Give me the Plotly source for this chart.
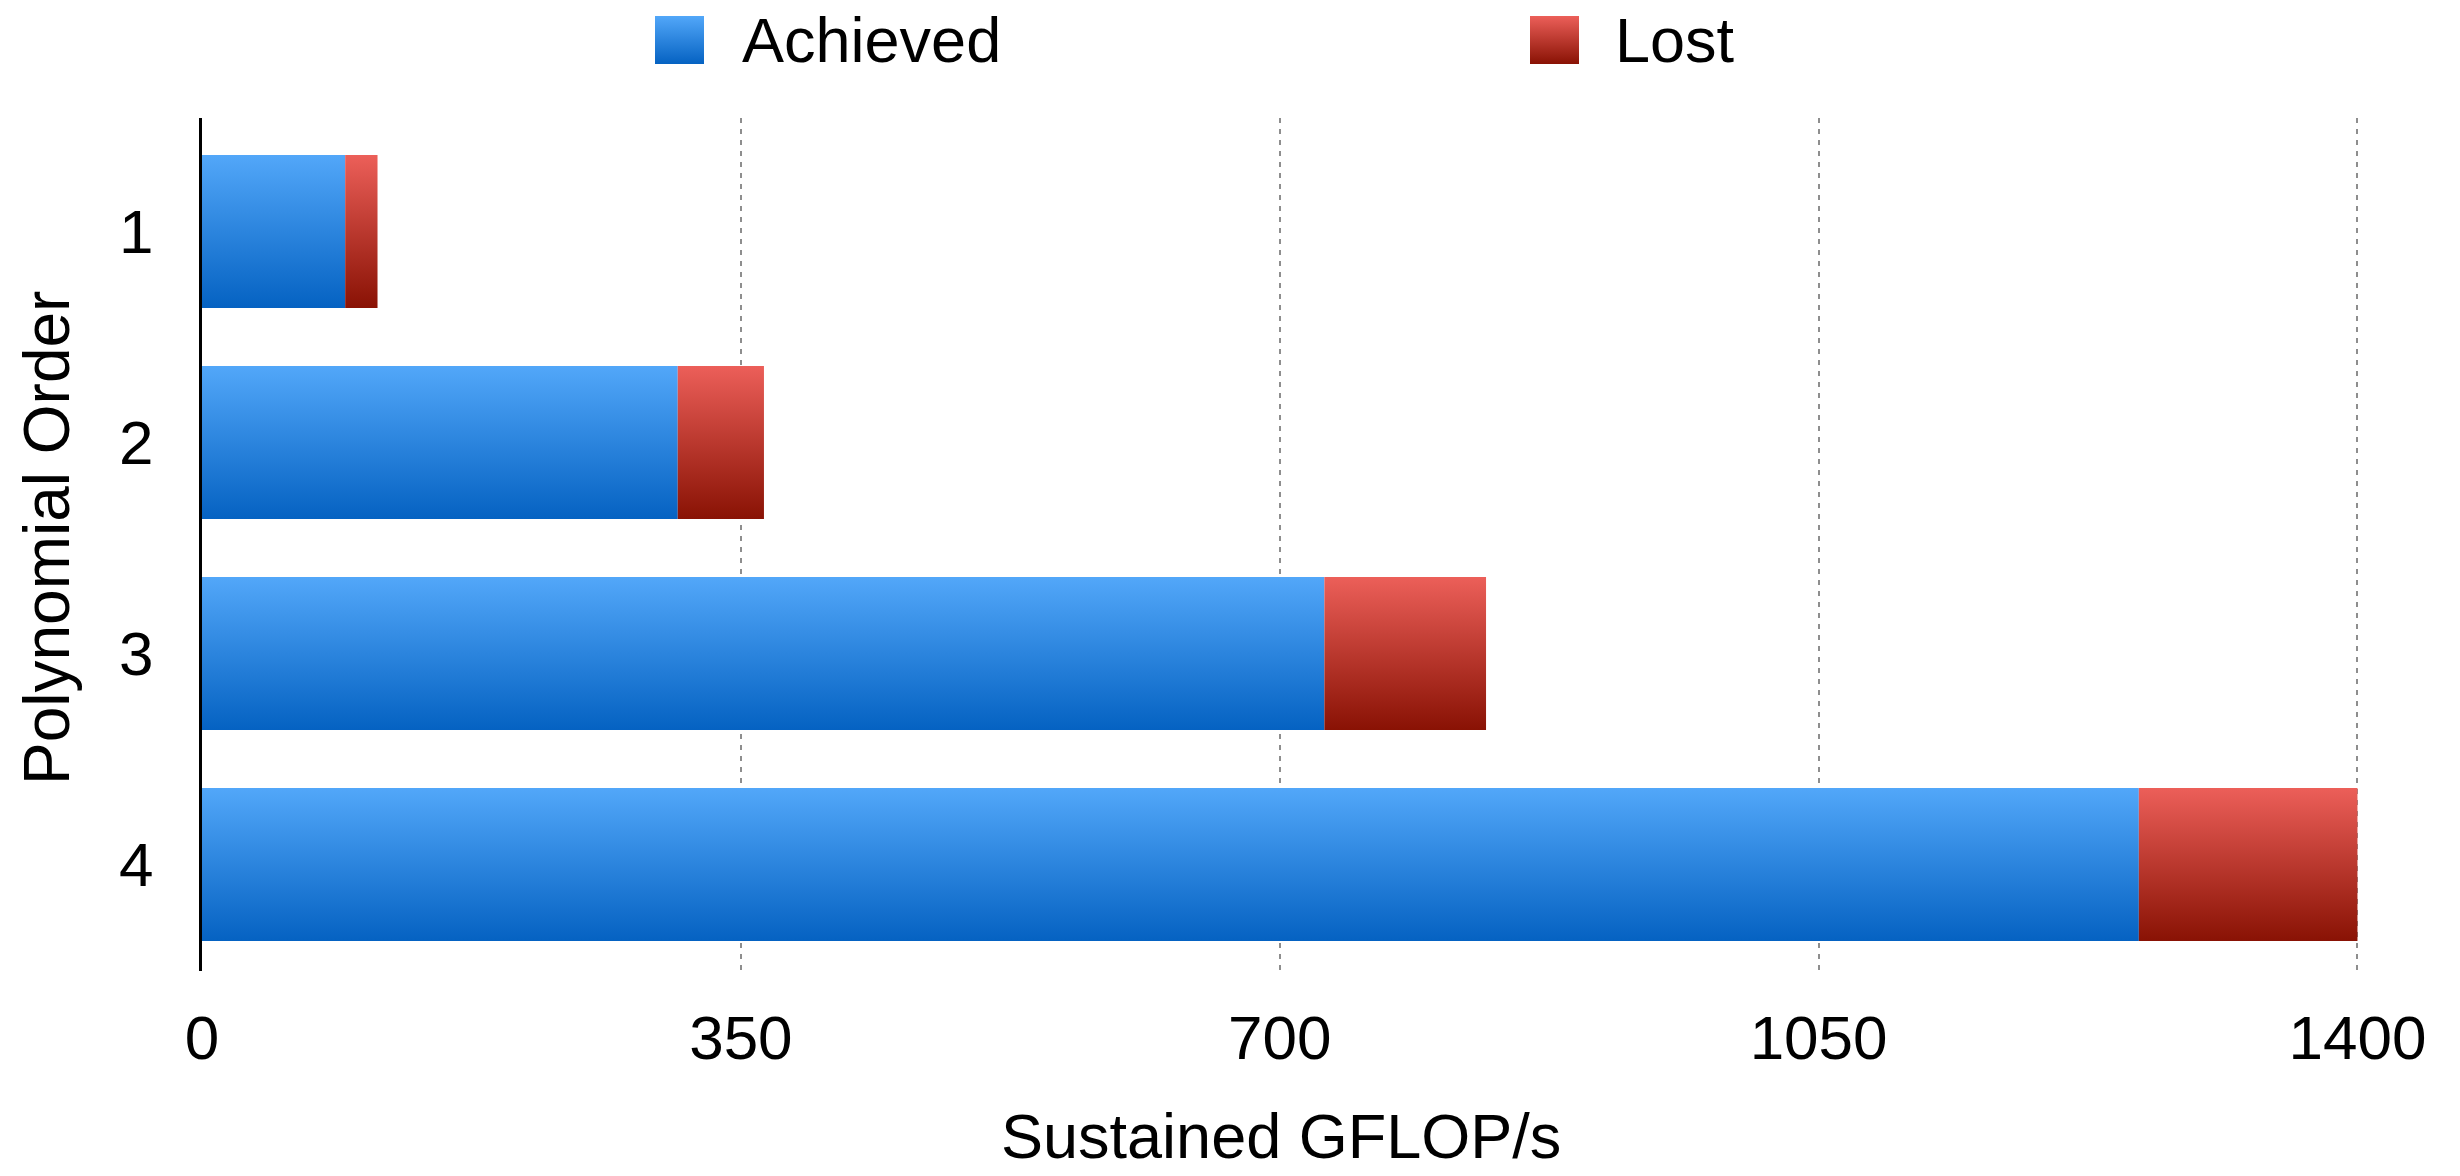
import base64
import plotly.graph_objects as go

# Data: sustained GFLOP/s per polynomial order
orders = ["1", "2", "3", "4"]
achieved = [93, 309, 729, 1258]
lost = [21, 56, 105, 142]
x_ticks = [0, 350, 700, 1050, 1400]

series_names = ["Achieved", "Lost"]

# Styling
FONT = "Liberation Sans, Arial, Helvetica, sans-serif"
BLUE_TOP, BLUE_BOTTOM = "#52a7f9", "#0562c2"
RED_TOP, RED_BOTTOM = "#ec5f59", "#891204"
HALF = 0.3626  # half bar thickness in category units

W, H = 2460, 1176
L, R, T, B = 202, 101, 118, 205
PW, PH = W - L - R, H - T - B


def px_x(px):
    """Page pixel column -> paper x (relative to plot area)."""
    return (px - L) / PW


def px_y(py):
    """Page pixel row -> paper y (relative to plot area)."""
    return (H - B - py) / PH


fig = go.Figure()


def add_segment(idx, x0, x1, top, bottom):
    y0, y1 = idx - HALF, idx + HALF
    fig.add_trace(go.Scatter(
        x=[x0, x1, x1, x0, x0],
        y=[y0, y0, y1, y1, y0],
        mode="lines",
        fill="toself",
        line=dict(width=0, color="rgba(0,0,0,0)"),
        fillgradient=dict(
            type="vertical",
            start=y0,
            stop=y1,
            colorscale=[[0, top], [1, bottom]],
        ),
        showlegend=False,
        hoverinfo="skip",
    ))


for i, (a, l) in enumerate(zip(achieved, lost)):
    add_segment(i, 0, a, BLUE_TOP, BLUE_BOTTOM)
    add_segment(i, a, a + l, RED_TOP, RED_BOTTOM)

fig.update_xaxes(
    range=[0, 1401],
    tickvals=x_ticks,
    ticktext=[str(v) for v in x_ticks],
    showgrid=True,
    gridcolor="#8e8e8e",
    gridwidth=2,
    griddash="5px,6px",
    zeroline=False,
    showline=False,
    ticks="",
    ticklabelstandoff=25,
    tickfont=dict(family=FONT, size=62, color="#000"),
    fixedrange=True,
)
fig.update_yaxes(
    range=[3.505, -0.538],
    tickvals=list(range(len(orders))),
    ticktext=orders,
    showgrid=False,
    zeroline=False,
    showline=True,
    linecolor="#000",
    linewidth=3,
    ticks="",
    ticklabelstandoff=33,
    tickfont=dict(family=FONT, size=62, color="#000"),
    fixedrange=True,
)


def swatch(top, bottom):
    svg = (
        '<svg xmlns="http://www.w3.org/2000/svg" width="49" height="48" '
        'viewBox="0 0 49 48" preserveAspectRatio="none">'
        '<defs><linearGradient id="g" x1="0" y1="0" x2="0" y2="1">'
        f'<stop offset="0" stop-color="{top}"/>'
        f'<stop offset="1" stop-color="{bottom}"/>'
        '</linearGradient></defs>'
        '<rect width="49" height="48" fill="url(#g)"/></svg>'
    )
    return "data:image/svg+xml;base64," + base64.b64encode(svg.encode()).decode()


# Legend row: gradient swatches with labels
legend_items = [
    (series_names[0], BLUE_TOP, BLUE_BOTTOM, 655, 740),
    (series_names[1], RED_TOP, RED_BOTTOM, 1530, 1613),
]
images = []
annotations = []
for name, top, bottom, sx, tx in legend_items:
    images.append(dict(
        source=swatch(top, bottom),
        xref="paper", yref="paper",
        x=px_x(sx), y=px_y(16),
        sizex=49 / PW, sizey=48 / PH,
        xanchor="left", yanchor="top",
        sizing="stretch", layer="above",
    ))
    annotations.append(dict(
        text=name, xref="paper", yref="paper",
        x=px_x(tx), y=px_y(40),
        xanchor="left", yanchor="middle",
        showarrow=False,
        font=dict(family=FONT, size=63, color="#000"),
    ))

# Axis titles
annotations.append(dict(
    text="Sustained GFLOP/s", xref="paper", yref="paper",
    x=0.5, y=px_y(1136),
    xanchor="center", yanchor="middle", showarrow=False,
    font=dict(family=FONT, size=63, color="#000"),
))
annotations.append(dict(
    text="Polynomial Order", xref="paper", yref="paper",
    x=px_x(47), y=px_y(538), textangle=-90,
    xanchor="center", yanchor="middle", showarrow=False,
    font=dict(family=FONT, size=64, color="#000"),
))

fig.update_layout(
    width=W, height=H,
    margin=dict(l=L, r=R, t=T, b=B, pad=0),
    paper_bgcolor="#fff",
    plot_bgcolor="#fff",
    showlegend=False,
    images=images,
    annotations=annotations,
)

fig.write_html("out.html", config={"displayModeBar": False})
